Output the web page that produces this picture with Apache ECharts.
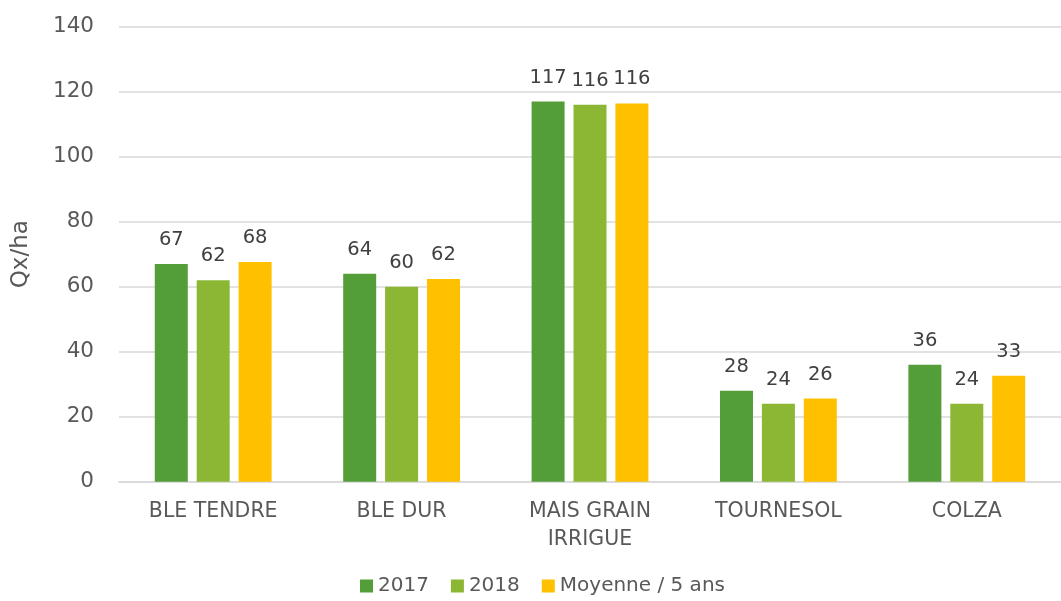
<!DOCTYPE html>
<html>
<head>
<meta charset="utf-8">
<script src="https://cdn.jsdelivr.net/npm/echarts@6/dist/echarts.min.js"></script>
<style>
html,body{margin:0;padding:0;background:#fff;}
#chart{width:1061px;height:601px;}
</style>
</head>
<body>
<div id="chart"></div>
<script>
const categories = ['BLE TENDRE', 'BLE DUR', 'MAIS GRAIN\nIRRIGUE', 'TOURNESOL', 'COLZA'];
const seriesNames = ['2017', '2018', 'Moyenne / 5 ans'];
const values2017 = [67, 64, 117, 28, 36];
const values2018 = [62, 60, 116, 24, 24];
const valuesMoyenne = [67.6, 62.4, 116.4, 25.6, 32.6];
const yTicks = [0, 20, 40, 60, 80, 100, 120, 140];
const colors = ['#549E39', '#8BB734', '#FFC000'];

const FONT = 'DejaVu Sans';
const chart = echarts.init(document.getElementById('chart'));

function barSeries(name, data, color) {
  return {
    name: name,
    type: 'bar',
    data: data,
    barWidth: 33,
    barGap: '27%',
    itemStyle: { color: color },
    label: {
      show: true,
      position: 'top',
      distance: 14,
      color: '#404040',
      fontFamily: FONT,
      fontSize: 19.5,
      formatter: p => Math.round(p.value)
    }
  };
}

chart.setOption({
  animation: false,
  textStyle: { fontFamily: FONT },
  grid: { left: 119, top: 26.7, width: 952, height: 455, containLabel: false },
  legend: {
    bottom: 0,
    left: 355,
    itemWidth: 13,
    itemHeight: 13,
    itemGap: 22,
    icon: 'rect',
    textStyle: { color: '#595959', fontSize: 20, fontFamily: FONT },
    data: seriesNames
  },
  xAxis: {
    type: 'category',
    data: categories,
    axisLine: { show: true, lineStyle: { color: '#D9D9D9', width: 1.5 } },
    axisTick: { show: false },
    axisLabel: { color: '#595959', fontSize: 20.5, fontFamily: FONT, margin: 16, lineHeight: 28, interval: 0 }
  },
  yAxis: {
    type: 'value',
    min: yTicks[0],
    max: yTicks[yTicks.length - 1],
    interval: 20,
    name: 'Qx/ha',
    nameLocation: 'middle',
    nameGap: 86,
    nameRotate: 90,
    nameTextStyle: { color: '#595959', fontSize: 23, fontFamily: FONT },
    axisLine: { show: false },
    axisTick: { show: false },
    axisLabel: { color: '#595959', fontSize: 21.5, fontFamily: FONT, margin: 25 },
    splitLine: { lineStyle: { color: '#D9D9D9', width: 1.5 } }
  },
  series: [
    barSeries(seriesNames[0], values2017, colors[0]),
    barSeries(seriesNames[1], values2018, colors[1]),
    barSeries(seriesNames[2], valuesMoyenne, colors[2])
  ]
});
</script>
</body>
</html>
